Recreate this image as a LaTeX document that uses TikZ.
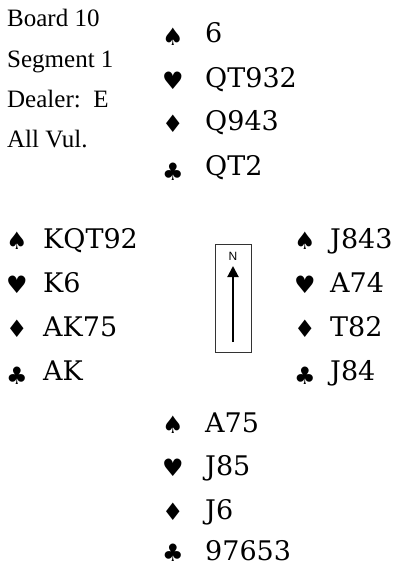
\documentclass[tikz,border=0pt]{standalone}
\usepackage{fontspec}
\setmainfont{Liberation Serif}
\newfontfamily\cardfont{DejaVu Serif}
\newfontfamily\suitfont{DejaVu Sans}
\newfontfamily\labfont{Liberation Sans}
\usetikzlibrary{arrows.meta}
\begin{document}
\begin{tikzpicture}[x=1pt,y=-1pt,
  info/.style={anchor=base west,inner sep=0pt,font=\fontsize{25}{25}\selectfont},
  cards/.style={anchor=base west,inner sep=0pt,font=\cardfont\fontsize{27}{27}\selectfont},
  suit/.style={anchor=center,inner sep=0pt,font=\suitfont\fontsize{24}{24}\selectfont},
  compass/.style={draw=black!80,line width=0.9pt,minimum width=36pt,minimum height=108pt,inner sep=0pt},
  northarrow/.style={-{Triangle[length=11pt,width=11pt]},line width=2pt}]
\useasboundingbox (0,0) rectangle (404,567);
% info
\node[info] (i1) at (7,27) {Board 10};
\node[info] (i2) at (7,68) {Segment 1};
\node[info] (i3) at (7,107) {Dealer:\ \ E};
\node[info] (i4) at (7,147) {All Vul.};
% North
\node[suit] (ns) at (173,37) {♠};
\node[suit] (nh) at (173,81) {♥};
\node[suit] (nd) at (173,124) {♦};
\node[suit] (nc) at (173,172) {♣};
\node[cards] (n1) at (205,43) {6};
\node[cards] (n2) at (205,88) {QT932};
\node[cards] (n3) at (205,131) {Q943};
\node[cards] (n4) at (205,175) {QT2};
% West
\node[suit] (ws) at (17,241) {♠};
\node[suit] (wh) at (17,285) {♥};
\node[suit] (wd) at (17,329) {♦};
\node[suit] (wc) at (17,376) {♣};
\node[cards] (w1) at (43,248) {KQT92};
\node[cards] (w2) at (43,292) {K6};
\node[cards] (w3) at (43,336) {AK75};
\node[cards] (w4) at (43,380) {AK};
% East
\node[suit] (es) at (305,241) {♠};
\node[suit] (eh) at (305,285) {♥};
\node[suit] (ed) at (305,329) {♦};
\node[suit] (ec) at (305,376) {♣};
\node[cards] (e1) at (330,248) {J843};
\node[cards] (e2) at (330,292) {A74};
\node[cards] (e3) at (330,336) {T82};
\node[cards] (e4) at (330,380) {J84};
% South
\node[suit] (ss) at (173,425) {♠};
\node[suit] (sh) at (173,468) {♥};
\node[suit] (sd) at (173,512) {♦};
\node[suit] (sc) at (173,553) {♣};
\node[cards] (s1) at (205,432) {A75};
\node[cards] (s2) at (205,475) {J85};
\node[cards] (s3) at (205,519) {J6};
\node[cards] (s4) at (205,560) {97653};
% compass
\node[compass] (box) at (233,298) {};
\node[inner sep=0pt,font=\labfont\fontsize{12}{12}\selectfont] (nlab) at (233,256) {N};
\coordinate (abot) at (233,342);
\coordinate (atop) at (233,266);
\draw[northarrow] (abot) -- (atop);
\end{tikzpicture}
\end{document}
